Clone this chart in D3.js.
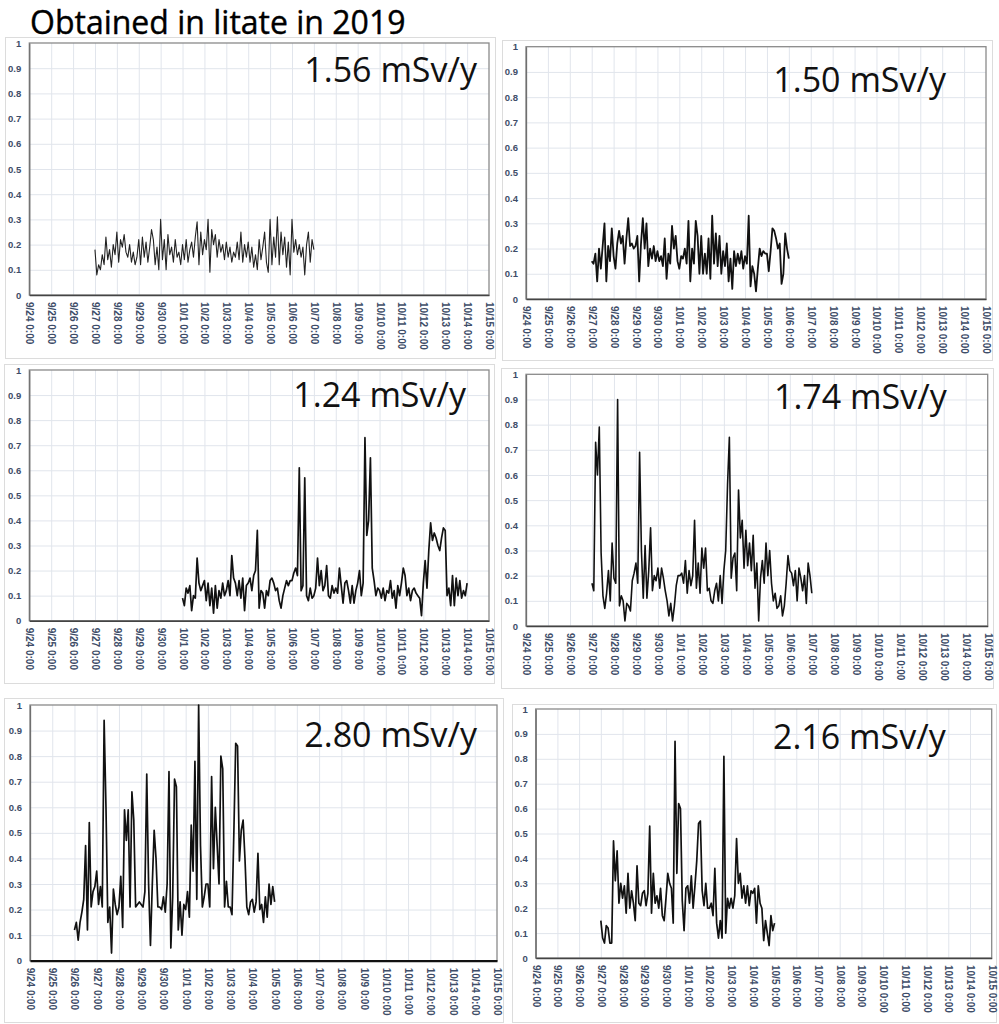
<!DOCTYPE html>
<html>
<head>
<meta charset="utf-8">
<script src="https://cdn.jsdelivr.net/npm/d3@7"></script>
<style>
  body { margin: 0; background: #fff; }
  .title { font-family: "Open Sans", sans-serif; font-size: 32px; fill: #000; stroke: #000; stroke-width: 0.4px; }
  .dose { font-family: "Open Sans", sans-serif; font-size: 34px; fill: #111; text-anchor: end; }
  .tick text { font-family: "Liberation Sans", Arial, sans-serif; fill: #3e4d68; }
  .grid line { stroke: #e1e5ec; stroke-width: 1; }
  .grid path { display: none; }
</style>
</head>
<body>
<div id="chart"></div>
<script>

// tick labels shared by all six panels
var xTickLabels = ["9/24 0:00", "9/25 0:00", "9/26 0:00", "9/27 0:00", "9/28 0:00", "9/29 0:00",
  "9/30 0:00", "10/1 0:00", "10/2 0:00", "10/3 0:00", "10/4 0:00", "10/5 0:00", "10/6 0:00",
  "10/7 0:00", "10/8 0:00", "10/9 0:00", "10/10 0:00", "10/11 0:00", "10/12 0:00",
  "10/13 0:00", "10/14 0:00", "10/15 0:00"];
var yTicks = [0, 0.1, 0.2, 0.3, 0.4, 0.5, 0.6, 0.7, 0.8, 0.9, 1];
var yTickLabels = ["0", "0.1", "0.2", "0.3", "0.4", "0.5", "0.6", "0.7", "0.8", "0.9", "1"];

var titleText = "Obtained in litate in 2019";
var doseLabels = ["1.56 mSv/y", "1.50 mSv/y", "1.24 mSv/y", "1.74 mSv/y", "2.80 mSv/y", "2.16 mSv/y"];

// each series: first reading time, one reading every 2 hours
var seriesStart = ["9/27 0:00", "9/27 0:00", "10/1 0:00", "9/27 0:00", "9/26 0:00", "9/27 0:00"];
var stepHours = 2;

var p1Values = [0.18,0.08,0.12,0.10,0.16,0.12,0.23,0.14,0.18,0.11,0.20,0.16,
  0.25,0.13,0.22,0.19,0.24,0.17,0.15,0.20,0.13,0.17,0.12,0.15,
  0.22,0.12,0.23,0.15,0.21,0.13,0.19,0.26,0.22,0.12,0.19,0.10,
  0.30,0.14,0.22,0.10,0.24,0.16,0.19,0.13,0.22,0.15,0.17,0.12,
  0.20,0.14,0.22,0.13,0.18,0.21,0.15,0.23,0.29,0.12,0.25,0.16,
  0.22,0.18,0.30,0.09,0.26,0.20,0.24,0.15,0.22,0.17,0.20,0.14,
  0.21,0.15,0.19,0.13,0.17,0.15,0.21,0.14,0.25,0.13,0.20,0.15,
  0.21,0.13,0.19,0.11,0.16,0.10,0.22,0.14,0.19,0.25,0.13,0.09,
  0.30,0.12,0.23,0.15,0.31,0.12,0.25,0.16,0.23,0.11,0.21,0.08,
  0.30,0.17,0.22,0.16,0.20,0.15,0.19,0.08,0.20,0.25,0.13,0.22,
  0.18];

var p2Values = [0.15,0.14,0.18,0.07,0.20,0.12,0.21,0.30,0.07,0.21,0.15,0.28,
  0.17,0.12,0.22,0.27,0.22,0.25,0.14,0.24,0.32,0.21,0.22,0.20,
  0.21,0.25,0.07,0.22,0.32,0.20,0.30,0.13,0.20,0.16,0.21,0.15,
  0.19,0.15,0.17,0.13,0.24,0.08,0.18,0.14,0.29,0.20,0.25,0.15,
  0.12,0.17,0.16,0.20,0.14,0.31,0.07,0.20,0.14,0.31,0.25,0.10,
  0.25,0.10,0.18,0.10,0.24,0.08,0.33,0.14,0.26,0.13,0.25,0.10,
  0.19,0.13,0.22,0.07,0.16,0.04,0.19,0.13,0.18,0.14,0.19,0.12,
  0.17,0.14,0.33,0.05,0.13,0.10,0.03,0.12,0.20,0.17,0.19,0.18,
  0.18,0.11,0.19,0.28,0.27,0.24,0.20,0.22,0.06,0.10,0.26,0.20,
  0.16];

var p3Values = [0.09,0.06,0.13,0.11,0.14,0.04,0.10,0.09,0.25,0.15,0.12,0.14,
  0.16,0.08,0.15,0.06,0.13,0.03,0.14,0.05,0.12,0.09,0.15,0.10,
  0.12,0.16,0.10,0.26,0.17,0.15,0.10,0.16,0.09,0.17,0.04,0.14,
  0.15,0.17,0.12,0.18,0.20,0.36,0.05,0.12,0.11,0.05,0.12,0.10,
  0.16,0.17,0.15,0.12,0.13,0.08,0.05,0.10,0.13,0.16,0.14,0.16,
  0.16,0.19,0.21,0.18,0.61,0.12,0.14,0.57,0.10,0.08,0.13,0.09,
  0.10,0.13,0.25,0.14,0.20,0.12,0.14,0.22,0.10,0.09,0.14,0.11,
  0.13,0.11,0.21,0.14,0.07,0.15,0.16,0.12,0.07,0.14,0.07,0.12,
  0.15,0.20,0.10,0.15,0.73,0.34,0.40,0.65,0.21,0.16,0.10,0.13,
  0.12,0.09,0.13,0.08,0.12,0.11,0.16,0.09,0.12,0.05,0.14,0.10,
  0.15,0.21,0.18,0.10,0.13,0.08,0.12,0.13,0.11,0.10,0.09,0.02,
  0.15,0.24,0.13,0.28,0.39,0.32,0.35,0.33,0.30,0.28,0.33,0.37,
  0.36,0.10,0.13,0.06,0.18,0.06,0.17,0.10,0.16,0.09,0.12,0.10,
  0.15];

var p4Values = [0.17,0.14,0.73,0.60,0.79,0.29,0.12,0.07,0.13,0.22,0.10,0.33,
  0.19,0.17,0.90,0.08,0.12,0.10,0.02,0.09,0.08,0.06,0.18,0.21,
  0.25,0.17,0.69,0.30,0.11,0.32,0.11,0.22,0.39,0.14,0.20,0.18,
  0.23,0.15,0.23,0.19,0.14,0.10,0.04,0.09,0.02,0.08,0.16,0.20,
  0.20,0.21,0.17,0.26,0.13,0.22,0.16,0.20,0.42,0.15,0.25,0.13,
  0.31,0.23,0.31,0.14,0.15,0.10,0.09,0.14,0.17,0.10,0.20,0.09,
  0.22,0.30,0.56,0.75,0.19,0.27,0.29,0.14,0.54,0.35,0.42,0.23,
  0.38,0.24,0.33,0.22,0.36,0.15,0.25,0.02,0.19,0.26,0.17,0.33,
  0.20,0.30,0.17,0.10,0.13,0.07,0.08,0.12,0.04,0.08,0.17,0.28,
  0.22,0.21,0.16,0.22,0.10,0.23,0.19,0.14,0.20,0.09,0.25,0.20,
  0.13];

var p5Values = [0.12,0.15,0.08,0.15,0.19,0.24,0.45,0.12,0.54,0.21,0.27,0.29,
  0.35,0.22,0.29,0.21,0.94,0.60,0.15,0.21,0.03,0.28,0.22,0.18,
  0.21,0.33,0.13,0.59,0.47,0.59,0.21,0.66,0.55,0.21,0.22,0.23,
  0.22,0.21,0.27,0.73,0.30,0.06,0.30,0.51,0.40,0.21,0.21,0.20,
  0.25,0.19,0.30,0.74,0.05,0.25,0.71,0.68,0.12,0.23,0.10,0.22,
  0.20,0.27,0.17,0.53,0.35,0.78,0.24,1.00,0.45,0.21,0.25,0.30,
  0.30,0.21,0.72,0.36,0.60,0.45,0.30,0.80,0.75,0.21,0.31,0.21,
  0.21,0.18,0.50,0.85,0.84,0.39,0.51,0.55,0.40,0.21,0.18,0.23,
  0.24,0.19,0.23,0.42,0.20,0.22,0.15,0.25,0.17,0.30,0.22,0.29,
  0.23];

var p6Values = [0.15,0.08,0.06,0.13,0.12,0.06,0.06,0.47,0.31,0.43,0.22,0.30,
  0.24,0.29,0.18,0.34,0.20,0.27,0.22,0.15,0.37,0.22,0.21,0.26,
  0.27,0.21,0.26,0.53,0.18,0.34,0.22,0.25,0.20,0.28,0.17,0.15,
  0.24,0.34,0.30,0.28,0.14,0.87,0.34,0.62,0.60,0.23,0.11,0.28,
  0.29,0.22,0.33,0.20,0.29,0.39,0.54,0.55,0.27,0.21,0.30,0.20,
  0.20,0.22,0.17,0.36,0.14,0.08,0.15,0.08,0.81,0.10,0.24,0.20,
  0.24,0.20,0.25,0.48,0.30,0.34,0.24,0.29,0.22,0.29,0.21,0.27,
  0.26,0.28,0.14,0.29,0.22,0.20,0.07,0.15,0.10,0.05,0.17,0.11,
  0.14];

var allValues = [p1Values, p2Values, p3Values, p4Values, p5Values, p6Values];

// page layout of the six pasted charts (pixels)
var panels = [
  { frame: [5, 37, 495, 358],   plot: [29.3, 43, 489, 295],     label: [12, 39], lw: 1.1 },
  { frame: [502, 40, 992, 360], plot: [526, 46.7, 986, 299],    label: [40, 45], lw: 1.8 },
  { frame: [4, 364, 494, 683],  plot: [29.3, 370, 489, 620.7],  label: [23, 37], lw: 1.7 },
  { frame: [501, 368, 993, 688],plot: [526, 374.3, 987.7, 626], label: [41, 35], lw: 1.6 },
  { frame: [4, 698, 503, 1022], plot: [30, 705, 497, 960.7],    label: [20, 42], lw: 1.7 },
  { frame: [512, 704, 996, 1022],plot: [535.7, 709, 991.7, 958],label: [46, 40], lw: 1.7 }
];

var parseTime = d3.utcParse("%Y/%m/%d %H:%M");
function toDate(s) { return parseTime("2019/" + s); }
var xTickDates = xTickLabels.map(toDate);

var svg = d3.select("#chart").append("svg")
    .attr("width", 999)
    .attr("height", 1024);

svg.append("text")
    .attr("class", "title")
    .attr("x", 30)
    .attr("y", 34)
    .text(titleText);

panels.forEach(function(p, k) {
  var left = p.plot[0], top = p.plot[1], right = p.plot[2], bottom = p.plot[3];

  var g = svg.append("g");

  // outer frame of the pasted chart
  g.append("rect")
      .attr("x", p.frame[0] + 0.5)
      .attr("y", p.frame[1] + 0.5)
      .attr("width", p.frame[2] - p.frame[0])
      .attr("height", p.frame[3] - p.frame[1])
      .attr("fill", "none")
      .attr("stroke", "#dcdcdc");

  var x = d3.scaleUtc()
      .domain([xTickDates[0], xTickDates[xTickDates.length - 1]])
      .range([left, right]);
  var y = d3.scaleLinear()
      .domain([0, 1])
      .range([bottom, top]);

  // grid lines
  g.append("g")
      .attr("class", "grid")
      .attr("transform", "translate(0," + bottom + ")")
      .call(d3.axisBottom(x).tickValues(xTickDates.slice(1, -1)).tickSize(-(bottom - top)).tickFormat(""));
  g.append("g")
      .attr("class", "grid")
      .attr("transform", "translate(" + left + ",0)")
      .call(d3.axisLeft(y).tickValues(yTicks.slice(1, -1)).tickSize(-(right - left)).tickFormat(""));

  // plot border
  g.append("rect")
      .attr("x", left)
      .attr("y", top)
      .attr("width", right - left)
      .attr("height", bottom - top)
      .attr("fill", "none")
      .attr("stroke", "#8a8a8a")
      .attr("stroke-width", 1.3);

  // y axis labels
  var yAxis = g.append("g")
      .attr("transform", "translate(" + left + ",0)")
      .call(d3.axisLeft(y).tickValues(yTicks).tickSize(0).tickPadding(8)
        .tickFormat(function(d, i) { return yTickLabels[i]; }));
  yAxis.select(".domain").attr("stroke", "#6f6f6f").attr("stroke-width", 1.3);
  yAxis.selectAll("text").style("font-size", "9.5px").style("font-weight", "bold");

  // x axis labels, rotated to read downwards
  var xAxis = g.append("g")
      .attr("transform", "translate(0," + bottom + ")")
      .call(d3.axisBottom(x).tickValues(xTickDates).tickSize(0)
        .tickFormat(function(d, i) { return xTickLabels[i]; }));
  xAxis.select(".domain").attr("stroke", k === 4 ? "#111" : "#444").attr("stroke-width", k === 4 ? 2.2 : 1.6);
  xAxis.selectAll("text")
      .attr("y", 0)
      .attr("x", 7)
      .attr("dy", "0.35em")
      .attr("transform", "rotate(90)")
      .style("text-anchor", "start")
      .style("font-size", "10px")
      .style("font-weight", "bold");

  // readings
  var start = toDate(seriesStart[k]);
  var points = allValues[k].map(function(v, i) {
    return { date: d3.utcHour.offset(start, i * stepHours), value: v };
  });
  var line = d3.line()
      .x(function(d) { return x(d.date); })
      .y(function(d) { return y(d.value); });
  g.append("path")
      .datum(points)
      .attr("fill", "none")
      .attr("stroke", k === 0 ? "#222" : "#111")
      .attr("stroke-width", p.lw)
      .attr("stroke-linejoin", "round")
      .attr("d", line);

  g.append("text")
      .attr("class", "dose")
      .attr("x", right - p.label[0])
      .attr("y", top + p.label[1])
      .text(doseLabels[k]);
});

</script>
</body>
</html>
